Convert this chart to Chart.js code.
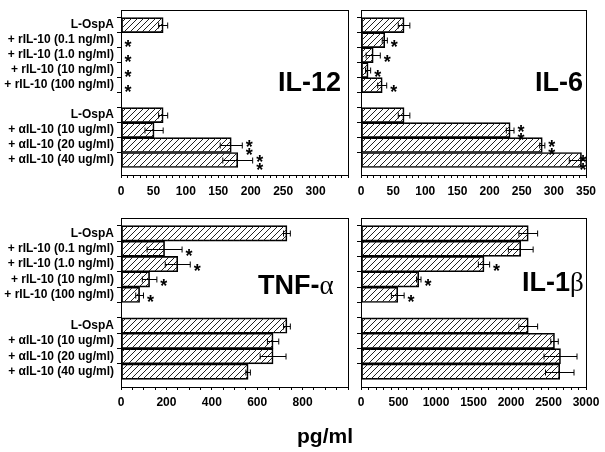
<!DOCTYPE html>
<html>
<head>
<meta charset="utf-8">
<script src="https://cdn.jsdelivr.net/npm/chart.js@4.4.1/dist/chart.umd.min.js"></script>
<style>
  body { margin: 0; background: #fff; width: 605px; height: 452px; position: relative; overflow: hidden;
         font-family: 'Liberation Sans', Arial, sans-serif; }
  canvas { position: absolute; left: 0; top: 0; }
  .title { position: absolute; font-weight: bold; font-size: 27px; line-height: 28px; color: #000; white-space: nowrap; }
  .greek { font-family: 'Liberation Serif', serif; font-weight: normal; }
  #unit { position: absolute; left: 0; width: 650px; top: 424px; text-align: center; font-weight: bold; font-size: 21px; color: #000; }
</style>
</head>
<body>
<canvas id="il12" width="605" height="452"></canvas>
<canvas id="il6" width="605" height="452"></canvas>
<canvas id="tnf" width="605" height="452"></canvas>
<canvas id="il1b" width="605" height="452"></canvas>
<div class="title" style="left:278px;top:68px">IL-12</div>
<div class="title" style="left:535px;top:68px">IL-6</div>
<div class="title" style="left:258px;top:271px">TNF-<span class="greek">α</span></div>
<div class="title" style="left:522px;top:268px">IL-1<span class="greek">β</span></div>
<div id="unit">pg/ml</div>
<script>
// rows, top to bottom (blank rows pad the ends and split the two groups)
const rowLabels = ['', 'L-OspA', '+ rIL-10 (0.1 ng/ml)', '+ rIL-10 (1.0 ng/ml)', '+ rIL-10 (10 ng/ml)',
  '+ rIL-10 (100 ng/ml)', '', 'L-OspA', '+ αIL-10 (10 ug/ml)', '+ αIL-10 (20 ug/ml)', '+ αIL-10 (40 ug/ml)', ''];

const il12Values = [null, 65, 0, 0, 0, 0, null, 65, 51, 170, 180, null];
const il12Errors = [null, 7, 0, 0, 0, 0, null, 7, 14, 17, 23, null];
const il12Stars  = [0, 0, 1, 1, 1, 1, 0, 0, 0, 2, 2, 0];

const il6Values = [null, 67, 37, 19, 11, 33, null, 67, 232, 282, 343, null];
const il6Errors = [null, 9, 4, 11, 4, 7, null, 9, 6, 4, 19, null];
const il6Stars  = [0, 0, 1, 1, 1, 1, 0, 0, 2, 2, 2, 0];

const tnfValues = [null, 731, 192, 250, 126, 82, null, 731, 670, 670, 560, null];
const tnfErrors = [null, 15, 77, 55, 32, 17, null, 15, 25, 57, 10, null];
const tnfStars  = [0, 0, 1, 1, 1, 1, 0, 0, 0, 0, 0, 0];

const il1bValues = [null, 2230, 2130, 1640, 770, 490, null, 2230, 2580, 2660, 2650, null];
const il1bErrors = [null, 125, 165, 75, 30, 85, null, 125, 50, 220, 190, null];
const il1bStars  = [0, 0, 0, 1, 1, 1, 0, 0, 0, 0, 0, 0];

const FONT = "'Liberation Sans', Arial, sans-serif";

function makeHatch(ctx) {
    const c = document.createElement('canvas');
    c.width = 6; c.height = 6;
    const g = c.getContext('2d');
    g.strokeStyle = '#222';
    g.lineWidth = 1;
    g.beginPath();
    g.moveTo(0, 6); g.lineTo(6, 0);
    g.moveTo(-3, 3); g.lineTo(3, -3);
    g.moveTo(3, 9); g.lineTo(9, 3);
    g.stroke();
    return ctx.createPattern(c, 'repeat');
}

const frame = {
    id: 'frame',
    afterDraw(chart) {
        const a = chart.chartArea, ctx = chart.ctx;
        ctx.save();
        ctx.strokeStyle = '#000';
        ctx.lineWidth = 1;
        ctx.strokeRect(Math.round(a.left) + 0.5, Math.round(a.top) + 0.5,
            Math.round(a.right - a.left), Math.round(a.bottom - a.top));
        ctx.restore();
    }
};

const errorBars = {
    id: 'errorBars',
    afterDatasetsDraw(chart, args, opts) {
        const ctx = chart.ctx, xs = chart.scales.x, area = chart.chartArea;
        const vals = chart.data.datasets[0].data;
        const meta = chart.getDatasetMeta(0);
        ctx.save();
        ctx.strokeStyle = '#000';
        ctx.fillStyle = '#000';
        ctx.lineWidth = 1;
        meta.data.forEach((bar, i) => {
            if (vals[i] == null) return;
            const y = Math.round(bar.y) + 0.5;
            const e = opts.errors[i] || 0;
            let hi = bar.x;
            if (e > 0) {
                const lo = xs.getPixelForValue(Math.max(0, vals[i] - e));
                hi = Math.min(xs.getPixelForValue(vals[i] + e), area.right);
                ctx.beginPath();
                ctx.moveTo(lo, y); ctx.lineTo(hi, y);
                ctx.moveTo(lo, y - 3); ctx.lineTo(lo, y + 3);
                ctx.moveTo(hi, y - 3); ctx.lineTo(hi, y + 3);
                ctx.stroke();
            }
            const n = opts.stars[i];
            if (n) {
                ctx.font = 'bold 18px ' + FONT;
                ctx.textAlign = 'center';
                ctx.textBaseline = 'alphabetic';
                const sx = Math.min(hi + 7, area.right - 3);
                if (n === 1) {
                    ctx.fillText('*', sx, y + 2 + 10);
                } else {
                    ctx.fillText('*', sx, y - 3 + 10);
                    ctx.fillText('*', sx, y + 5.5 + 10);
                }
            }
        });
        ctx.restore();
    }
};

function makePanel(id, values, errors, stars, area, xMax, step, labelEvery, showLast, showRows, labelPad) {
    const canvas = document.getElementById(id);
    const ctx = canvas.getContext('2d');
    const xAxisH = 26;
    return new Chart(ctx, {
        type: 'bar',
        data: {
            labels: rowLabels,
            datasets: [{
                data: values,
                backgroundColor: makeHatch(ctx),
                borderColor: '#000',
                borderWidth: 1,
                borderSkipped: false,
                barPercentage: 1,
                categoryPercentage: 1
            }]
        },
        options: {
            indexAxis: 'y',
            responsive: false,
            animation: false,
            devicePixelRatio: 1,
            layout: {
                padding: { left: 0, top: area.top, right: 605 - area.right, bottom: 452 - area.bottom - xAxisH }
            },
            plugins: {
                legend: { display: false },
                tooltip: { enabled: false },
                errorBars: { errors: errors, stars: stars }
            },
            scales: {
                x: {
                    type: 'linear',
                    min: 0,
                    max: xMax,
                    ticks: {
                        stepSize: step,
                        autoSkip: false,
                        maxRotation: 0,
                        color: '#000',
                        padding: labelPad,
                        font: { family: FONT, size: 12, weight: 'bold' },
                        callback: function (v) {
                            if (v % labelEvery !== 0) return '';
                            if (v === xMax && !showLast) return '';
                            return v;
                        }
                    },
                    grid: { drawOnChartArea: false, tickLength: 3, color: '#000' },
                    border: { color: '#000', width: 1 },
                    afterFit: function (s) { s.height = xAxisH; }
                },
                y: {
                    type: 'category',
                    offset: false,
                    ticks: {
                        autoSkip: false,
                        color: '#000',
                        padding: 3,
                        font: { family: FONT, size: 12, weight: 'bold' },
                        callback: function (v, i) { return showRows ? rowLabels[i] : ''; }
                    },
                    grid: {
                        drawOnChartArea: false,
                        tickLength: 4,
                        color: c => (c.index === 0 || c.index === rowLabels.length - 1) ? 'rgba(0,0,0,0)' : '#000'
                    },
                    border: { color: '#000', width: 1 },
                    afterFit: function (s) { s.width = area.left; }
                }
            }
        },
        plugins: [frame, errorBars]
    });
}

makePanel('il12', il12Values, il12Errors, il12Stars, { left: 121, top: 7, right: 348, bottom: 175 }, 350, 10, 50, false, true, 6);
makePanel('il6', il6Values, il6Errors, il6Stars, { left: 361, top: 7, right: 586, bottom: 175 }, 350, 10, 50, true, false, 6);
makePanel('tnf', tnfValues, tnfErrors, tnfStars, { left: 121, top: 218, right: 348, bottom: 387 }, 1000, 50, 200, false, true, 5);
makePanel('il1b', il1bValues, il1bErrors, il1bStars, { left: 361, top: 218, right: 586, bottom: 387 }, 3000, 100, 500, true, false, 5);
</script>
</body>
</html>
